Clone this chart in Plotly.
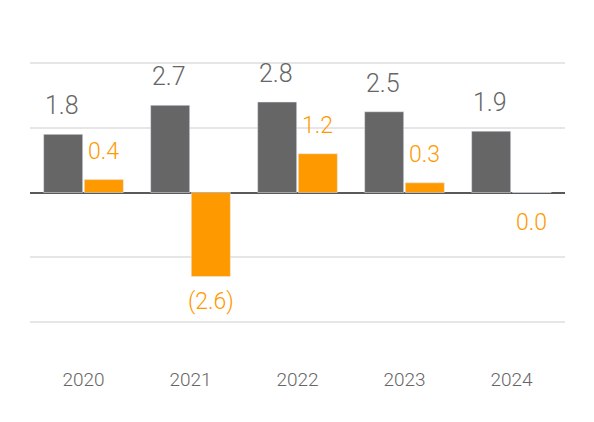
import plotly.graph_objects as go

years = ["2020", "2021", "2022", "2023", "2024"]
gray_vals = [1.8, 2.7, 2.8, 2.5, 1.9]
orange_vals = [0.4, -2.6, 1.2, 0.3, 0.0]
gray_labels = ["1.8", "2.7", "2.8", "2.5", "1.9"]
orange_labels = ["0.4", "(2.6)", "1.2", "0.3", "0.0"]

GRAY = "#666666"
ORANGE = "#ff9900"
FONT = "Roboto, Liberation Sans, sans-serif"

fig = go.Figure()
fig.add_trace(go.Bar(x=years, y=gray_vals, marker_color=GRAY, name="A"))
fig.add_trace(go.Bar(x=years, y=orange_vals, marker_color=ORANGE, name="B"))

annotations = []
for i, (v, t) in enumerate(zip(gray_vals, gray_labels)):
    annotations.append(dict(x=i, y=v, text=t, xref="x", yref="y", showarrow=False,
                            xshift=-22, yshift=12, yanchor="bottom",
                            font=dict(family=FONT, size=25, color=GRAY, weight=300)))
for i, (v, t) in enumerate(zip(orange_vals, orange_labels)):
    pos = v > 0
    annotations.append(dict(x=i, y=v, text=t, xref="x", yref="y", showarrow=False,
                            xshift=20, yshift=13 if pos else (-10 if v < 0 else -14),
                            yanchor="bottom" if pos else "top",
                            font=dict(family=FONT, size=23, color=ORANGE, weight=300)))

fig.update_layout(
    width=594, height=422,
    margin=dict(l=22, r=37, t=23, b=76),
    paper_bgcolor="white", plot_bgcolor="white",
    barmode="group", bargap=0.24, bargroupgap=0.04,
    showlegend=False,
    annotations=annotations,
    font=dict(family=FONT),
    xaxis=dict(type="category", showgrid=False, showline=False, ticks="",
               zeroline=False,
               tickfont=dict(family=FONT, size=19, color="#666666", weight=300),
               ticklabelstandoff=12),
    yaxis=dict(range=[-5, 5], dtick=2, tick0=0, showticklabels=False,
               showgrid=True, gridcolor="#e6e6e6", gridwidth=1.5,
               zeroline=True, zerolinecolor="#595959", zerolinewidth=2,
               showline=False),
)

fig.write_html("out.html")
